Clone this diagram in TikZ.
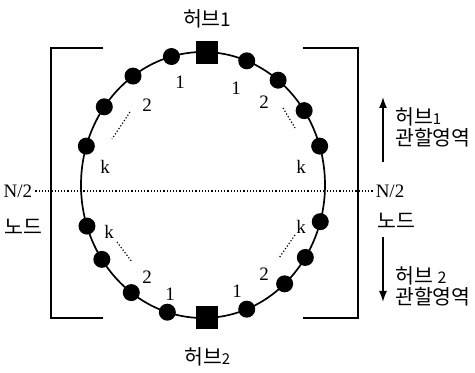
\documentclass[tikz,border=0pt]{standalone}
\usepackage{fontspec}
\setmainfont{Liberation Serif}
\newfontfamily\kor{Noto Sans CJK KR}
\usetikzlibrary{arrows.meta,positioning,calc}

\begin{document}
\begin{tikzpicture}[
  x=1pt, y=1pt,
  every node/.style={inner sep=0pt},
  ringnode/.style={circle, fill=black, minimum size=17pt},
  hubnode/.style={rectangle, fill=black, minimum width=22pt, minimum height=23pt},
  num/.style={font=\fontsize{19}{19}\selectfont},
  kr/.style={font=\kor\fontsize{20.5}{21}\selectfont},
  dots/.style={dotted, line width=1.2pt},
  arr/.style={-{Latex[length=11pt,width=8pt]}, line width=1.6pt},
]
  \useasboundingbox (0,0) rectangle (475,373);
  \coordinate (c) at (203,188);

  % Ring
  \draw[line width=1.7pt] (c) ellipse [x radius=122, y radius=133];

  % Hubs
  \node[hubnode] (hub1) at ($(c)+(88:122 and 133)$) {};
  \node[hubnode] (hub2) at ($(c)+(-88:122 and 133)$) {};
  \node[kr, above=12pt of hub1] (hub1lbl) {허브\fontsize{19}{19}\selectfont 1};
  \node[kr, below=18pt of hub2] (hub2lbl) {허브\fontsize{15}{15}\selectfont 2};

  % Nodes on the ring
  \foreach \a [count=\i] in {105,125,144,163,69,52,34,17,198,214,234,253,-16,-33,-48,-69}
    \node[ringnode] (n\i) at ($(c)+(\a:122 and 133)$) {};

  % Numbering, upper half
  \node[num] (ul1) at (180,291) {1};
  \node[num] (ur1) at (236,285) {1};
  \node[num] (ul2) at (147,268) {2};
  \node[num] (ur2) at (264,271) {2};
  \node[num] (ulk) at (105,206) {k};
  \node[num] (urk) at (301,206) {k};
  \draw[dots] (130,261) -- (112,234);
  \draw[dots] (283,265) -- (295,245);

  % Numbering, lower half
  \node[num] (llk) at (109,141) {k};
  \node[num] (lrk) at (301,146) {k};
  \node[num] (ll2) at (147,96) {2};
  \node[num] (lr2) at (264,99) {2};
  \node[num] (ll1) at (170,79) {1};
  \node[num] (lr1) at (237,82) {1};
  \draw[dots] (117,131) -- (132,111);
  \draw[dots] (295,138) -- (279,115);

  % Half line
  \node[font=\fontsize{19}{19}\selectfont] (hl) at (18,182) {N/2};
  \node[font=\fontsize{19}{19}\selectfont] (hr) at (390,182) {N/2};
  \draw[dots] ($(hl.east)+(3,0)$) -- ($(hr.west)+(-3,0)$);
  \node[kr] (ndl) at (23,146) {노드};
  \node[kr] (ndr) at (396,152) {노드};

  % Brackets
  \draw[line width=1.6pt] (103,325) -- (51,325) -- (51,55) -- (103,55);
  \draw[line width=1.6pt] (303,325) -- (358,325) -- (358,55) -- (303,55);

  % Hub areas
  \coordinate (up0) at (383,211);
  \coordinate (up1) at (383,276);
  \coordinate (dn0) at (383,136);
  \coordinate (dn1) at (383,71);
  \draw[arr] (up0) -- (up1);
  \draw[arr] (dn0) -- (dn1);
  \node[kr, anchor=west, align=left] (area1) at (395,246) {허브{\fontsize{15}{15}\selectfont 1}\\관할영역};
  \node[kr, anchor=west, align=left] (area2) at (395,87) {허브 {\fontsize{16}{16}\selectfont 2}\\관할영역};
\end{tikzpicture}
\end{document}
